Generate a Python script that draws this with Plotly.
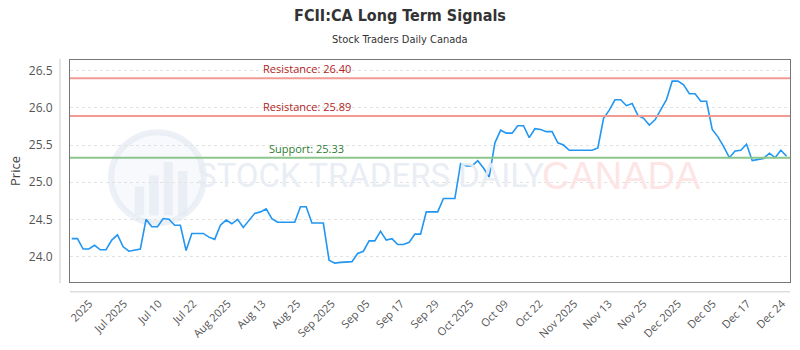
import plotly.graph_objects as go
import numpy as np

# ---- data ----
prices = [
    24.24, 24.24, 24.10, 24.10, 24.15, 24.09, 24.09, 24.22, 24.29, 24.13,
    24.07, 24.08, 24.10, 24.50, 24.40, 24.40, 24.51, 24.50, 24.42, 24.42,
    24.08, 24.31, 24.31, 24.31, 24.26, 24.23, 24.42, 24.49, 24.44, 24.50,
    24.39, 24.49, 24.58, 24.60, 24.64, 24.51, 24.46, 24.46, 24.46, 24.46,
    24.67, 24.67, 24.45, 24.45, 24.45, 23.95, 23.91, 23.92, 23.92, 23.93,
    24.04, 24.07, 24.21, 24.21, 24.34, 24.22, 24.24, 24.16, 24.16, 24.19,
    24.30, 24.30, 24.60, 24.60, 24.60, 24.78, 24.78, 24.78, 25.25, 25.22,
    25.22, 25.29, 25.19, 25.07, 25.53, 25.70, 25.66, 25.66, 25.76, 25.76,
    25.60, 25.72, 25.71, 25.68, 25.68, 25.53, 25.50, 25.43, 25.43, 25.43,
    25.43, 25.43, 25.46, 25.86, 25.97, 26.11, 26.11, 26.03, 26.06, 25.90,
    25.86, 25.77, 25.84, 25.98, 26.11, 26.36, 26.36, 26.31, 26.19, 26.19,
    26.09, 26.09, 25.71, 25.61, 25.48, 25.33, 25.42, 25.43, 25.51, 25.29,
    25.31, 25.32, 25.39, 25.33, 25.43, 25.35,
]
x_index = list(range(len(prices)))

tick_labels = ["2025", "Jul 2025", "Jul 10", "Jul 22", "Aug 2025", "Aug 13", "Aug 25",
               "Sep 2025", "Sep 05", "Sep 17", "Sep 29", "Oct 2025", "Oct 09", "Oct 22",
               "Nov 2025", "Nov 13", "Nov 25", "Dec 2025", "Dec 05", "Dec 17", "Dec 24"]

resistance_levels = [26.40, 25.89]
support_levels = [25.33]

y_ticks = [24.0, 24.5, 25.0, 25.5, 26.0, 26.5]

# ---- figure ----
fig = go.Figure()
fig.add_trace(go.Scatter(
    x=x_index, y=prices, mode="lines",
    line=dict(color="#2196f3", width=1.6),
    hoverinfo="skip", showlegend=False,
))

tick_pos = list(np.linspace(3.1, 124.2, len(tick_labels)))

shapes = []
annotations = []

# watermark logo circle
shapes.append(dict(type="circle", xref="paper", yref="paper",
                   x0=0.057, x1=0.186, y0=0.265, y1=0.675,
                   line=dict(color="rgba(225,231,241,0.6)", width=6),
                   fillcolor="rgba(240,243,249,0.5)", layer="below"))
for bx, bh in [(0.09, 0.13), (0.11, 0.18), (0.13, 0.24), (0.15, 0.20)]:
    shapes.append(dict(type="rect", xref="paper", yref="paper",
                       x0=bx, x1=bx + 0.013, y0=0.30, y1=0.30 + bh,
                       line=dict(width=0), fillcolor="rgba(225,231,241,0.6)", layer="below"))
annotations.append(dict(text="STOCK TRADERS DAILY", xref="paper", yref="paper",
                        x=0.417, y=0.478, showarrow=False, xanchor="center", yanchor="middle",
                        font=dict(family="Roboto", size=33, color="rgba(232,236,244,0.95)")))
annotations.append(dict(text="CANADA", xref="paper", yref="paper",
                        x=0.766, y=0.478, showarrow=False, xanchor="center", yanchor="middle",
                        font=dict(family="Liberation Sans, DejaVu Sans", size=38,
                                  color="rgba(253,228,228,0.95)")))

for lvl in resistance_levels:
    shapes.append(dict(type="line", xref="paper", yref="y", x0=0, x1=1, y0=lvl, y1=lvl,
                       line=dict(color="#f29b95", width=2)))
    annotations.append(dict(text=f"Resistance: {lvl:.2f}", xref="paper", yref="y",
                            x=0.329, y=lvl, yanchor="bottom", xanchor="center", showarrow=False,
                            yshift=0, font=dict(family="Open Sans", size=11, color="#b22222")))
for lvl in support_levels:
    shapes.append(dict(type="line", xref="paper", yref="y", x0=0, x1=1, y0=lvl, y1=lvl,
                       line=dict(color="#8cc68c", width=2)))
    annotations.append(dict(text=f"Support: {lvl:.2f}", xref="paper", yref="y",
                            x=0.329, y=lvl, yanchor="bottom", xanchor="center", showarrow=False,
                            yshift=0, font=dict(family="Open Sans", size=11, color="#2e7d32")))

# offset light axis lines
shapes.append(dict(type="line", xref="paper", yref="paper", x0=-10/721, x1=-10/721, y0=-0.005, y1=1.005,
                   line=dict(color="#cccccc", width=1)))
shapes.append(dict(type="line", xref="paper", yref="paper", x0=0, x1=1, y0=-10/226, y1=-10/226,
                   line=dict(color="#cccccc", width=1)))

annotations.append(dict(text="Stock Traders Daily Canada", xref="paper", yref="paper",
                        x=(400 - 70) / 721, y=1, xanchor="center", yanchor="bottom", yshift=12,
                        showarrow=False,
                        font=dict(family="DejaVu Sans Condensed", size=11, color="#333")))

fig.update_layout(
    width=800, height=350,
    margin=dict(l=70, r=9, t=60, b=64),
    paper_bgcolor="white", plot_bgcolor="white",
    title=dict(text="<b>FCII:CA Long Term Signals</b>", x=0.5, xanchor="center", y=0.955, yanchor="middle",
               font=dict(family="DejaVu Sans Condensed", size=16, color="#333")),
    xaxis=dict(range=[-0.3, 125.6], tickmode="array", tickvals=tick_pos, ticktext=tick_labels,
               tickangle=-45, showgrid=False, zeroline=False,
               showline=True, mirror=True, linecolor="#777", linewidth=1,
               ticks="outside", ticklen=10, tickcolor="rgba(0,0,0,0)",
               tickfont=dict(family="Open Sans", size=11, color="#555")),
    yaxis=dict(range=[23.656, 26.645], tickmode="array", tickvals=y_ticks,
               ticktext=[f"{v:.1f}" for v in y_ticks],
               showgrid=True, gridcolor="#e2e2e2", griddash="dot", zeroline=False,
               showline=True, mirror=True, linecolor="#777", linewidth=1,
               ticks="outside", ticklen=14, tickcolor="rgba(0,0,0,0)",
               tickfont=dict(family="Open Sans", size=12, color="#555"),
               title=dict(text="Price", standoff=5, font=dict(family="Open Sans", size=13, color="#444"))),
    shapes=shapes, annotations=annotations,
)

fig.write_html("out.html")
